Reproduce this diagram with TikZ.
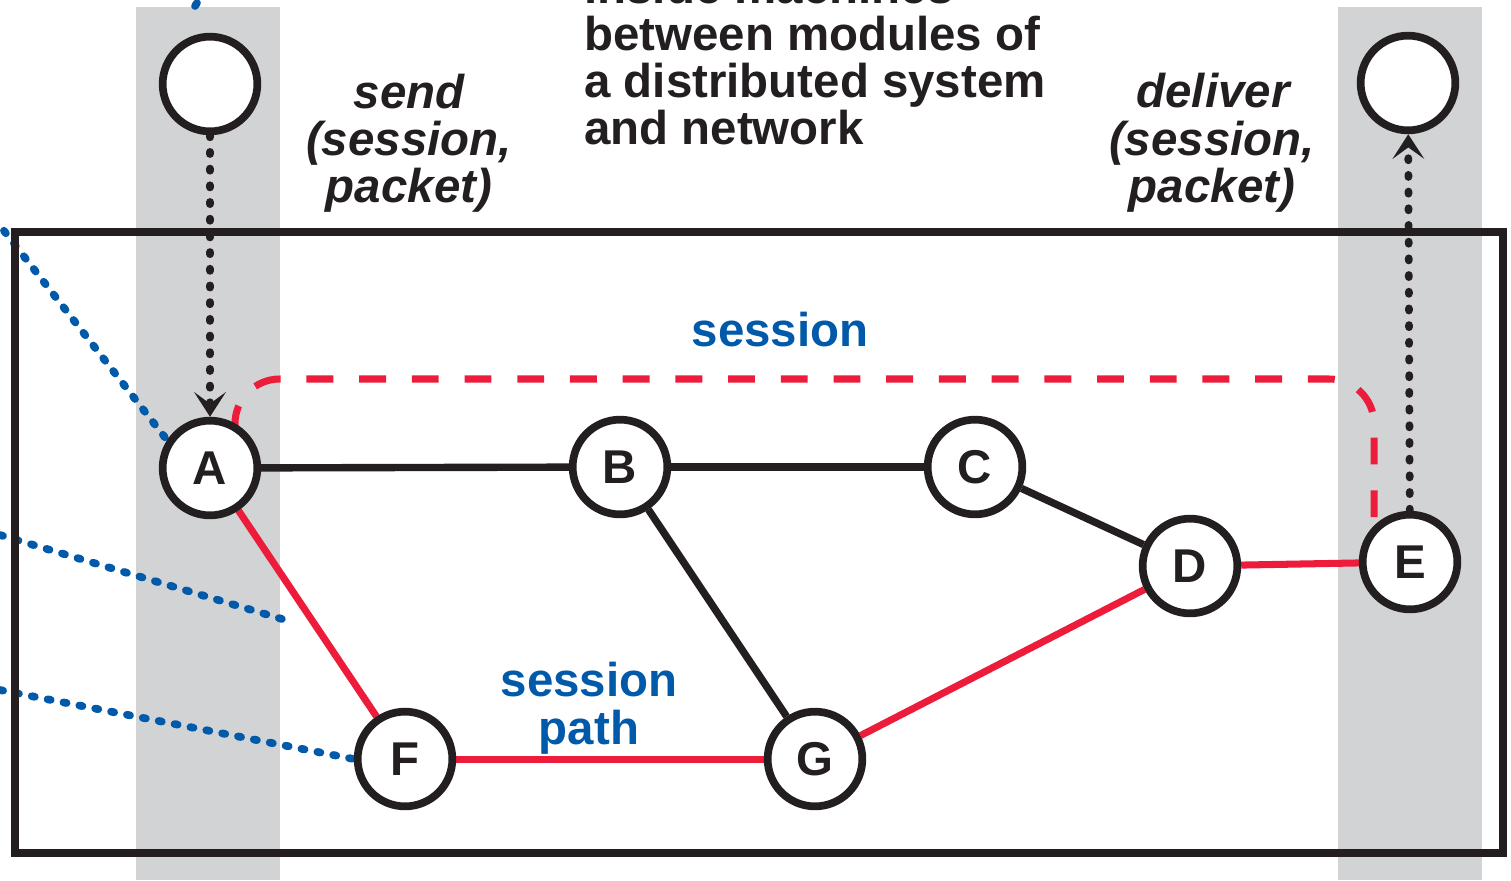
\documentclass[tikz,border=0pt]{standalone}
\usepackage{fontspec}
\setmainfont{Liberation Sans}
\usetikzlibrary{arrows.meta}
\definecolor{bandgray}{HTML}{D1D3D4}
\definecolor{ink}{HTML}{231F20}
\definecolor{pathred}{HTML}{ED1C3A}
\definecolor{sessblue}{HTML}{0059A9}
\pgfdeclarelayer{back}
\pgfsetlayers{back,main}
\tikzset{
 netnode/.style={circle, draw=ink, line width=4.4pt, fill=white, minimum size=53.9pt, inner sep=0pt,
   font=\fontsize{27}{27}\selectfont\bfseries, text=ink},
 blackedge/.style={draw=ink, line width=4.2pt},
 rededge/.style={draw=pathred, line width=4pt},
 sessiondash/.style={draw=pathred, line width=4pt, dash pattern=on 15.3pt off 14.7pt, dash phase=8.5pt},
 calldots/.style={draw=ink, line width=4.4pt, line cap=round, dash pattern=on 1.2pt off 8.3pt},
 bluedots/.style={draw=sessblue, line width=4.4pt, line cap=round, dash pattern=on 1.8pt off 7.4pt},
 chev/.style={-{Stealth[length=14pt,width=18pt,inset=6.5pt]}},
 titletext/.style={font=\fontsize{27}{27}\selectfont\bfseries, text=ink, inner sep=0pt, anchor=base west},
 calltext/.style={font=\fontsize{27}{27}\selectfont\bfseries\itshape, text=ink, inner sep=0pt, anchor=base},
 bluetext/.style={font=\fontsize{27}{27}\selectfont\bfseries, text=sessblue, inner sep=0pt, anchor=base},
}
\begin{document}
\begin{tikzpicture}[x=0.02cm,y=-0.02cm]
\useasboundingbox (0,0) rectangle (1511,880);

% nodes
\node[netnode] (TL) at (210,84) {};
\node[netnode] (TR) at (1408,83) {};
\node[netnode] (A) at (210,468) {A};
\node[netnode] (B) at (620,467) {B};
\node[netnode] (C) at (975,467) {C};
\node[netnode] (D) at (1190,566) {D};
\node[netnode] (E) at (1410,562) {E};
\node[netnode] (F) at (405,759) {F};
\node[netnode] (G) at (815,759) {G};

% texts
\node[titletext] (t1) at (584,3) {inside machines};
\node[titletext] (t2) at (584,50) {between modules of};
\node[titletext] (t3) at (584,97) {a distributed system};
\node[titletext] (t4) at (584,144) {and network};

\node[calltext] (s1) at (409,108) {send};
\node[calltext] (s2) at (409,155) {(session,};
\node[calltext] (s3) at (409,202) {packet)};

\node[calltext] (d1) at (1213,107) {deliver};
\node[calltext] (d2) at (1212,155) {(session,};
\node[calltext] (d3) at (1212,202) {packet)};

\node[bluetext] (sess) at (780,346) {session};
\node[bluetext] (sp1) at (589,696) {session};
\node[bluetext] (sp2) at (589,744) {path};

\coordinate (b1) at (-6,218);
\coordinate (b3s) at (0,535);
\coordinate (b3e) at (292,622);
\coordinate (b4) at (0,690);

\begin{pgfonlayer}{back}
  % gray bands
  \fill[bandgray] (136,7) rectangle (280,880);
  \fill[bandgray] (1338,7) rectangle (1482,880);
  % blue dotted lines
  \draw[line width=4.4pt, line cap=round, sessblue] (195,6) -- (197,3);
  \draw[bluedots] (b1) -- (A.147);
  \draw[bluedots] (b3s) -- (b3e);
  \draw[bluedots] (b4) -- (F.west);
  % frame
  \draw[ink, line width=4.2pt] (15,232) rectangle (1503,853);
  % edges
  \draw[blackedge] (A) -- (B);
  \draw[blackedge] (B) -- (C);
  \draw[blackedge] (C) -- (D);
  \draw[blackedge] (B) -- (G);
  \draw[rededge] (A) -- (F);
  \draw[rededge] (F) -- (G);
  \draw[rededge] (G) -- (D);
  \draw[rededge] (D) -- (E);
  % session dashed outline
  \draw[sessiondash, rounded corners=25.5pt] (235,470) |- (1374,379) -- (1374,562);
  % send / deliver calls
  \draw[calldots, chev] (TL) -- (A);
  \draw[calldots, chev] (E) -- (TR);
\end{pgfonlayer}
\end{tikzpicture}
\end{document}
